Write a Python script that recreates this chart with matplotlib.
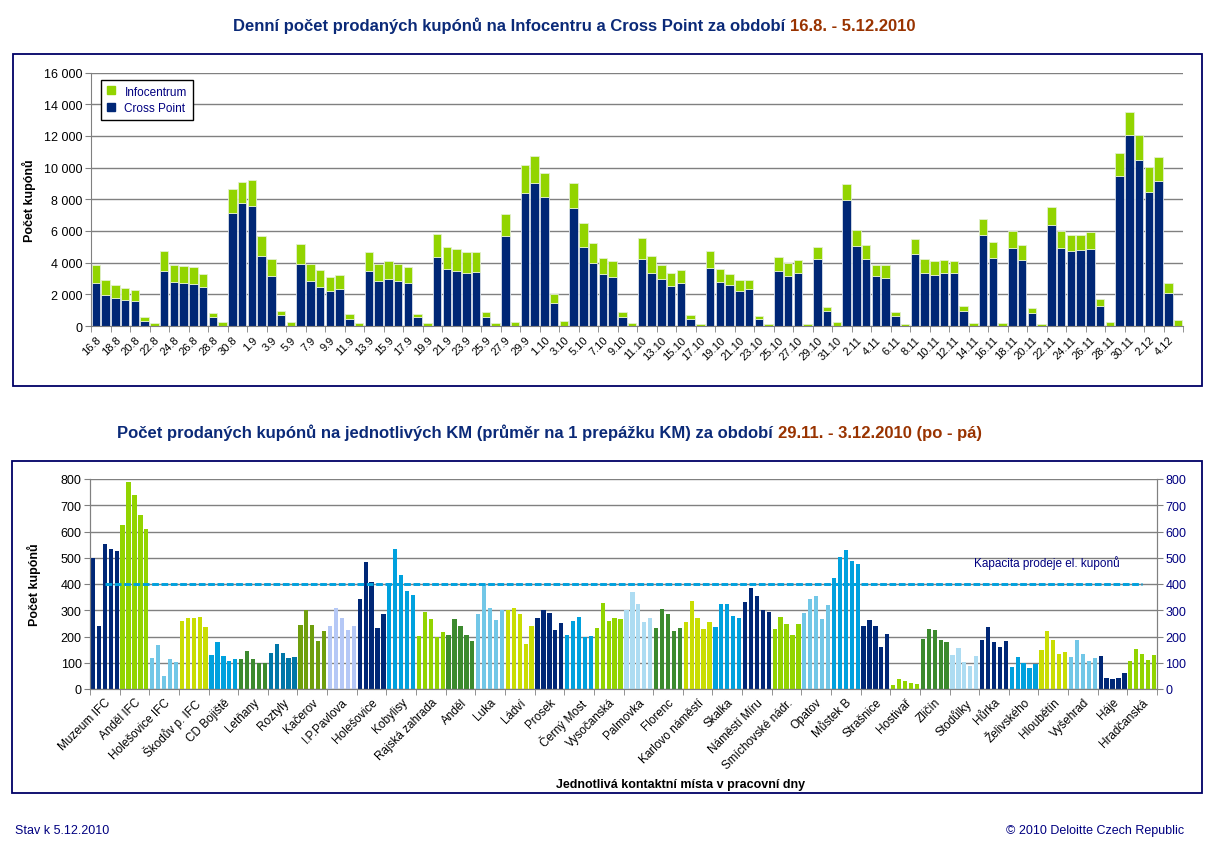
import numpy as np
import pandas as pd
import matplotlib
matplotlib.use("Agg")
import matplotlib.pyplot as plt
from matplotlib.patches import Rectangle
from matplotlib.lines import Line2D

plt.rcParams['font.family'] = ['Liberation Sans', 'DejaVu Sans']

# --- horní graf: denní prodej 16.8. - 5.12.2010 ---
den_od, den_do = "2010-08-16", "2010-12-05"
dny = pd.date_range(den_od, den_do, freq="D")
popisky_dnu = [f"{d.day}.{d.month}" for d in dny]

cross_point = [2720, 1970, 1780, 1630, 1590, 335, 0,
               3475, 2785, 2720, 2660, 2470, 545, 0,
               7120, 7790, 7580, 4420, 3160, 670, 0,
               3940, 2870, 2470, 2220, 2325, 460, 0,
               3475, 2850, 2975, 2850, 2700, 585, 0,
               4375, 3600, 3500, 3370, 3430, 585, 0,
               5650, 0, 8420, 9025, 8145, 1465, 0,
               7430, 5005, 3960, 3310, 3080, 585, 0,
               4250, 3370, 2950, 2510, 2700, 460, 0,
               3645, 2785, 2575, 2220, 2305, 460, 0,
               3455, 3180, 3330, 0, 4210, 920, 0,
               7980, 5025, 4210, 3140, 3035, 650, 0,
               4520, 3350, 3205, 3330, 3350, 940, 0,
               5760, 4270, 0, 4920, 4165, 815, 0,
               6365, 4900, 4710, 4775, 4880, 1275, 0,
               9445, 12060, 10450, 8460, 9150, 2095, 0]

infocentrum = [1110, 920, 795, 780, 690, 210, 170,
               1235, 1090, 1050, 1045, 820, 295, 250,
               1510, 1320, 1610, 1230, 1050, 290, 230,
               1210, 1025, 1070, 900, 875, 270, 210,
               1175, 1045, 1150, 1045, 1005, 170, 190,
               1425, 1360, 1340, 1320, 1220, 315, 170,
               1450, 250, 1740, 1735, 1485, 525, 335,
               1615, 1505, 1295, 1005, 1005, 295, 190,
               1280, 1070, 900, 840, 820, 210, 150,
               1065, 835, 735, 690, 585, 190, 125,
               900, 820, 815, 125, 795, 275, 250,
               1005, 1005, 920, 690, 795, 210, 150,
               990, 880, 880, 815, 735, 295, 190,
               1025, 1030, 210, 1050, 945, 335, 150,
               1175, 1070, 1050, 940, 1025, 420, 250,
               1505, 1470, 1610, 1590, 1490, 650, 375]

# --- dolní graf: průměr na 1 přepážku KM, 29.11. - 3.12.2010 ---
mista = ["Muzeum IFC", "Anděl IFC", "Holešovice IFC", "Škodův p. IFC", "CD Bojiště",
         "Letňany", "Roztyly", "Kačerov", "I.P.Pavlova", "Holešovice", "Kobylisy",
         "Rajská zahrada", "Anděl", "Luka", "Ládví", "Prosek", "Černý Most",
         "Vysočanská", "Palmovka", "Florenc", "Karlovo náměstí", "Skalka",
         "Náměstí Míru", "Smíchovské nádr.", "Opatov", "Můstek B", "Strašnice",
         "Hostivař", "Zličín", "Stodůlky", "Hůrka", "Želivského", "Hloubětín",
         "Vyšehrad", "Háje", "Hradčanská"]

kupony_po_pa = [
    [499, 241, 554, 535, 527], [626, 790, 738, 664, 611], [119, 169, 51, 116, 104],
    [260, 272, 272, 276, 237], [131, 179, 127, 108, 116], [116, 146, 116, 100, 100],
    [138, 173, 138, 119, 123], [245, 300, 245, 184, 222], [241, 310, 272, 226, 241],
    [344, 485, 409, 234, 287], [405, 535, 436, 375, 359], [203, 295, 268, 199, 218],
    [207, 268, 241, 207, 184], [287, 401, 310, 264, 301], [302, 310, 287, 173, 241],
    [272, 302, 291, 226, 253], [207, 260, 276, 199, 203], [234, 329, 260, 272, 268],
    [302, 371, 325, 257, 272], [234, 306, 287, 222, 234], [257, 337, 272, 230, 254],
    [237, 324, 324, 279, 272], [333, 386, 356, 302, 295], [230, 276, 249, 207, 249],
    [291, 344, 356, 268, 321], [424, 504, 531, 489, 477], [241, 264, 241, 161, 211],
    [17, 39, 30, 24, 20], [192, 230, 226, 188, 180], [131, 157, 104, 89, 127],
    [188, 237, 180, 161, 184], [85, 123, 100, 81, 97], [150, 222, 188, 135, 142],
    [123, 188, 135, 108, 119], [126, 43, 39, 43, 62], [108, 154, 133, 112, 131]]

kapacita = 400

# barvy
NAVY = '#002776'
LIME = '#92d400'
LBLUE = '#72c7e7'
YGREEN = '#c9dd03'
BLUE = '#00a1de'
DGREEN = '#3c8a2e'
TEAL = '#0076a8'
OLIVE = '#6f9f0d'
PALE = '#b5c8f6'
VLIGHT = '#addcf2'
barvy_mist = [NAVY, LIME, LBLUE, YGREEN, BLUE, DGREEN, TEAL, OLIVE, PALE, NAVY,
              BLUE, LIME, DGREEN, LBLUE, YGREEN, NAVY, BLUE, LIME, VLIGHT, DGREEN,
              YGREEN, BLUE, NAVY, LIME, LBLUE, BLUE, NAVY, LIME, DGREEN, VLIGHT,
              NAVY, BLUE, YGREEN, LBLUE, NAVY, LIME]

TITLE_BLUE = '#0b2a78'
BROWN = '#993300'
TXT_NAVY = '#000080'
GRID = '#808080'

W, H = 1226, 845
fig = plt.figure(figsize=(W / 100, H / 100), dpi=100)


def fx(px):
    return px / W


def fy(py):
    return 1 - py / H


# rámečky
for (x0, y0, x1, y1) in [(13, 55, 1202, 387), (12, 462, 1202, 794)]:
    fig.add_artist(Rectangle((fx(x0), fy(y1)), fx(x1) - fx(x0), fy(y0) - fy(y1),
                             transform=fig.transFigure, fill=False,
                             edgecolor='#000066', lw=1.3))

# ===== horní graf =====
ax1 = fig.add_axes([fx(91), fy(327), fx(1183) - fx(91), fy(73.5) - fy(327)])
x = np.arange(len(dny))
ax1.bar(x, cross_point, width=0.85, color=NAVY, edgecolor='#d8dfe8', lw=0.6,
        zorder=2)
ax1.bar(x, infocentrum, width=0.85, bottom=cross_point, color=LIME,
        edgecolor='#e3efcf', lw=0.6, zorder=2)
ax1.set_xlim(-0.5, len(dny) - 0.5)
ax1.set_ylim(0, 16000)
ax1.set_yticks(np.arange(0, 16001, 2000))
ax1.set_yticklabels([f"{v:,}".replace(",", " ") for v in range(0, 16001, 2000)],
                    fontsize=9)
ax1.set_xticks(x[::2])
ax1.set_xticklabels(popisky_dnu[::2], rotation=45, ha='right',
                    rotation_mode='anchor', fontsize=8)
ax1.set_xticks(np.arange(-0.5, len(dny), 2), minor=True)
ax1.tick_params(axis='x', which='major', length=0, pad=6)
ax1.tick_params(axis='x', which='minor', length=4, color=GRID)
ax1.tick_params(axis='y', length=4, color=GRID, pad=2)
ax1.yaxis.grid(True, color=GRID, lw=1)
ax1.set_axisbelow(True)
for s in ['top', 'right']:
    ax1.spines[s].set_visible(False)
for s in ['left', 'bottom']:
    ax1.spines[s].set_color(GRID)
ax1.set_ylabel("Počet kupónů", fontsize=9, fontweight='bold', labelpad=6)

handles = [Line2D([], [], ls='', marker='s', ms=6, color=LIME),
           Line2D([], [], ls='', marker='s', ms=6, color=NAVY)]
leg = ax1.legend(handles, ["Infocentrum", "Cross Point"], loc='upper left',
                 bbox_to_anchor=(0.009, 0.972), fontsize=8.5, fancybox=False,
                 edgecolor='black', framealpha=1, labelcolor=TXT_NAVY,
                 handlelength=0.7, handletextpad=0.8, borderpad=0.5,
                 labelspacing=0.35, borderaxespad=0)
leg.get_frame().set_linewidth(1.0)

# ===== dolní graf =====
ax2 = fig.add_axes([fx(90), fy(690), fx(1157) - fx(90), fy(480) - fy(690)])
n_dni = 5
for g, (vals, c) in enumerate(zip(kupony_po_pa, barvy_mist)):
    pos = g * n_dni + np.arange(n_dni)
    ax2.bar(pos, vals, width=0.72, color=c, zorder=2)
stredy = np.arange(len(mista)) * n_dni + (n_dni - 1) / 2
ax2.set_xlim(-0.5, len(mista) * n_dni - 0.5)
ax2.set_ylim(0, 800)
ax2.set_yticks(np.arange(0, 801, 100))
ax2.tick_params(axis='y', labelsize=9, length=4, color=GRID, pad=2)
ax2.set_xticks(stredy)
ax2.set_xticklabels(mista, rotation=45, ha='right', rotation_mode='anchor',
                    fontsize=8.5)
ax2.set_xticks(np.arange(-0.5, len(mista) * n_dni, n_dni), minor=True)
ax2.tick_params(axis='x', which='major', length=0, pad=5)
ax2.tick_params(axis='x', which='minor', length=4, color=GRID)
ax2.yaxis.grid(True, color=GRID, lw=1)
ax2.set_axisbelow(True)
ax2.spines['top'].set_visible(False)
for s in ['left', 'bottom', 'right']:
    ax2.spines[s].set_color(GRID)
ax2.set_ylabel("Počet kupónů", fontsize=9, fontweight='bold', labelpad=14)
ax2.set_xlabel("Jednotlivá kontaktní místa v pracovní dny", fontsize=9,
               fontweight='bold', labelpad=0)
ax2.xaxis.set_label_coords((681 - 90) / (1157 - 90), -(779 - 690) / 210)

ax3 = ax2.twinx()
ax3.set_ylim(0, 800)
ax3.set_yticks(np.arange(0, 801, 100))
ax3.tick_params(axis='y', labelsize=9, length=4, color=GRID, labelcolor=TXT_NAVY,
                pad=2)
ax3.spines['top'].set_visible(False)
for s in ['left', 'bottom', 'right']:
    ax3.spines[s].set_color(GRID)
ax3.plot(stredy, [kapacita] * len(mista), color=BLUE, lw=2.1,
         dashes=(2.3, 0.9), zorder=3)
ax3.text((974 - 90) / 1067, (690 - 563) / 210, "Kapacita prodeje el. kuponů",
         transform=ax3.transAxes, fontsize=8.5, color=TXT_NAVY, va='center')

# ===== titulky =====
t1 = fig.text(fx(233), fy(31), "Denní počet prodaných kupónů na Infocentru a Cross Point za období ",
              fontsize=12, fontweight='bold', color=TITLE_BLUE, va='baseline')
ax1.annotate("16.8. - 5.12.2010", xy=(1, 0), xycoords=t1, va='bottom',
             fontsize=12, fontweight='bold', color=BROWN, annotation_clip=False)
t2 = fig.text(fx(117), fy(438),
              "Počet prodaných kupónů na jednotlivých KM (průměr na 1 prepážku KM) za období ",
              fontsize=12, fontweight='bold', color=TITLE_BLUE, va='baseline')
ax2.annotate("29.11. - 3.12.2010 (po - pá)", xy=(1, 0), xycoords=t2, va='bottom',
             fontsize=12, fontweight='bold', color=BROWN, annotation_clip=False)

fig.text(fx(15), fy(831), "Stav k 5.12.2010", fontsize=9, color=TXT_NAVY,
         va='center')
fig.text(fx(1184), fy(831), "© 2010 Deloitte Czech Republic", fontsize=9,
         color=TXT_NAVY, va='center', ha='right')

fig.savefig("out.png", dpi=100, facecolor='white')
